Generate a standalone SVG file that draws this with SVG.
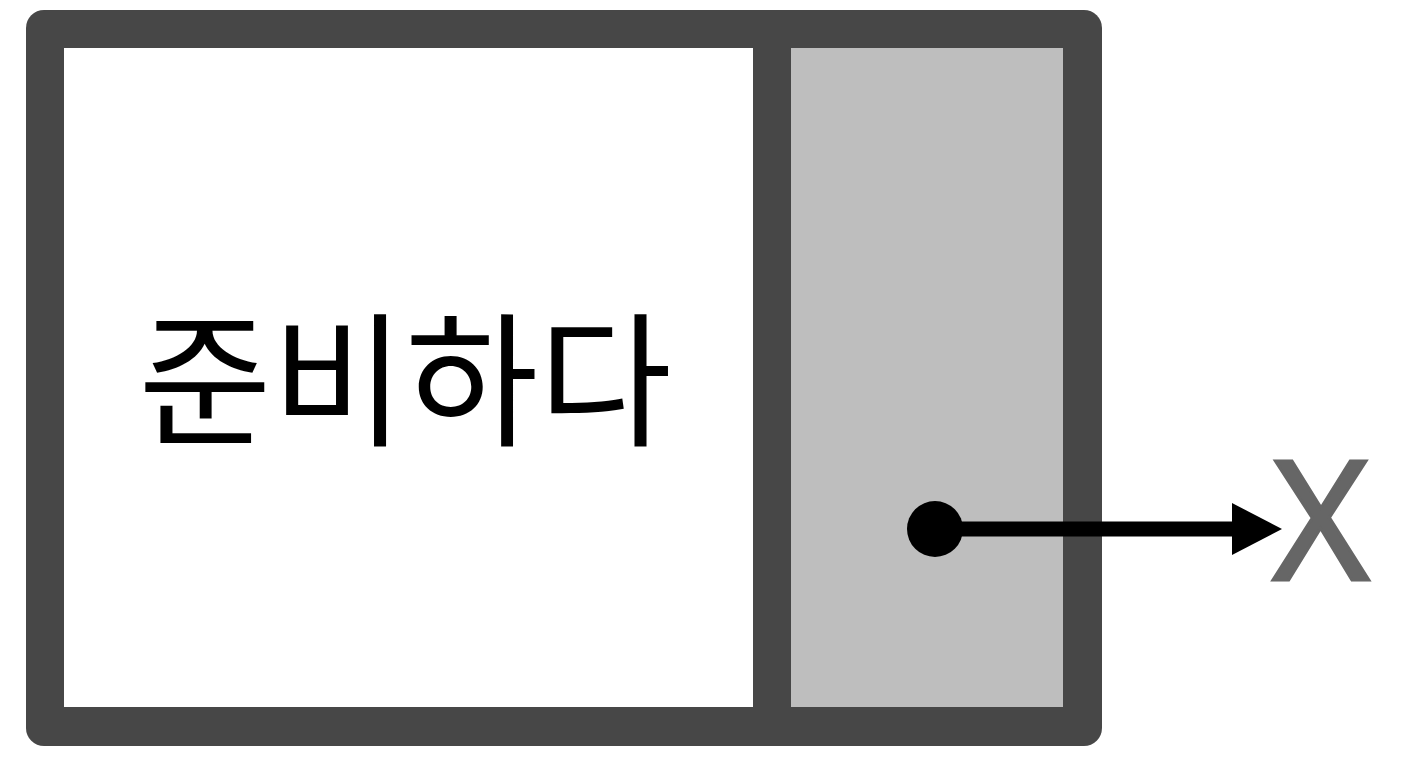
<svg xmlns="http://www.w3.org/2000/svg" width="1408" height="768" viewBox="0 0 1408 768">
<style>
.frame{fill:#474747}
.main{fill:#ffffff}
.side{fill:#bebebe}
.label{font-family:"Noto Sans CJK KR","Noto Sans",sans-serif;font-size:145px;fill:#000000}
.x{font-family:"Noto Sans","Liberation Sans",sans-serif;font-size:166px;fill:#666666;stroke:#666666;stroke-width:3}
.conn{stroke:#000000;stroke-width:15;fill:none}
</style>
<defs>
<marker id="arrow" markerUnits="userSpaceOnUse" markerWidth="52" markerHeight="54" refX="2" refY="26" orient="auto">
<path d="M0,0 L50,26 L0,52 Z" fill="#000000"/>
</marker>
</defs>
<rect width="1408" height="768" fill="#ffffff"/>
<g id="box">
<rect class="frame" x="26" y="10" width="1076" height="736" rx="18"/>
<rect class="main" x="64" y="48" width="689" height="659"/>
<rect class="side" x="791" y="48" width="272" height="659"/>
</g>
<g id="label">
<text class="label" x="405" y="435" text-anchor="middle">준비하다</text>
</g>
<g id="target">
<text class="x" x="1321" y="580" text-anchor="middle">X</text>
</g>
<g id="connectors">
<line class="conn" x1="935" y1="529" x2="1234" y2="529" marker-end="url(#arrow)"/>
<circle cx="935" cy="529" r="28" fill="#000000"/>
</g>
</svg>
